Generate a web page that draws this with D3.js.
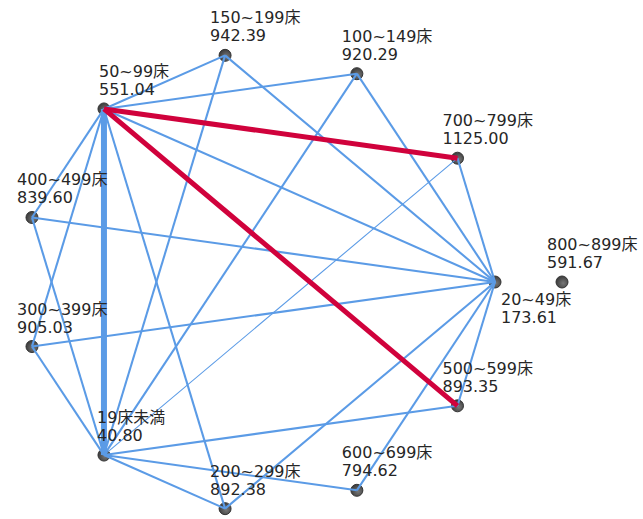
<!DOCTYPE html>
<html>
<head>
<meta charset="utf-8">
<script src="https://cdn.jsdelivr.net/npm/d3@7/dist/d3.min.js"></script>
<style>
  html, body { margin: 0; padding: 0; background: #ffffff; }
  svg { display: block; }
  text { font-family: "DejaVu Sans", "Noto Sans CJK JP", sans-serif; font-size: 16px; fill: #262626; }
</style>
</head>
<body>
<svg id="chart" width="643" height="519"></svg>
<script>
// ---- data ----
// nodes in their order round the circle (starting at the right, going counter-clockwise)
const ringCategories = ["20~49床", "700~799床", "100~149床", "150~199床", "50~99床", "400~499床",
                        "300~399床", "19床未満", "200~299床", "600~699床", "500~599床"];
const ringValues = [173.61, 1125.00, 920.29, 942.39, 551.04, 839.60,
                    905.03, 40.80, 892.38, 794.62, 893.35];
// node with no links, drawn outside the ring
const isolatedCategories = ["800~899床"];
const isolatedValues = [591.67];

// links: source, target, strength, kind
const linkSources = [
  "50~99床", "50~99床", "50~99床", "50~99床", "50~99床", "50~99床", "50~99床", "50~99床", "50~99床",
  "19床未満", "19床未満", "19床未満", "19床未満", "19床未満", "19床未満", "19床未満", "19床未満",
  "20~49床", "20~49床", "20~49床", "20~49床", "20~49床", "20~49床", "20~49床", "20~49床"
];
const linkTargets = [
  "150~199床", "100~149床", "700~799床", "20~49床", "500~599床", "19床未満", "400~499床", "300~399床", "200~299床",
  "150~199床", "100~149床", "700~799床", "500~599床", "600~699床", "200~299床", "300~399床", "400~499床",
  "150~199床", "100~149床", "700~799床", "400~499床", "300~399床", "200~299床", "600~699床", "500~599床"
];
const linkStrengths = [
  2, 2, 5, 2, 5, 6, 2, 2, 2,
  2, 2, 1, 2, 2, 2, 2, 2,
  2, 2, 2, 2, 2, 2, 2, 2
];
const linkKinds = [
  "n", "n", "r", "n", "r", "n", "n", "n", "n",
  "n", "n", "n", "n", "n", "n", "n", "n",
  "n", "n", "n", "n", "n", "n", "n", "n"
];

// ---- layout ----
const cx = 258.7, cy = 282, rx = 236.3, ry = 229;
const svg = d3.select("#chart");

const angle = d3.scaleLinear().domain([0, ringCategories.length]).range([0, 2 * Math.PI]);
const pos = new Map();
ringCategories.forEach((c, i) => {
  const a = angle(i);
  pos.set(c, { x: cx + rx * Math.cos(a), y: cy - ry * Math.sin(a), value: ringValues[i] });
});
isolatedCategories.forEach((c, i) => {
  pos.set(c, { x: cx + rx + 67, y: cy, value: isolatedValues[i] });
});

const widthScale = d3.scaleLinear().domain([1, 6]).range([1.1, 6]);
const colorOf = k => k === "r" ? "#d0023c" : "#5b9be6";

const links = linkSources.map((s, i) => ({
  s: pos.get(s), t: pos.get(linkTargets[i]), w: linkStrengths[i], k: linkKinds[i]
}));

const nodes = [...pos.entries()].map(([name, p]) => ({ name, ...p }));

const defs = svg.append("defs");
const grad = defs.append("radialGradient").attr("id", "ng").attr("cx", "60%").attr("cy", "60%").attr("r", "60%");
grad.append("stop").attr("offset", "0%").attr("stop-color", "#777");
grad.append("stop").attr("offset", "100%").attr("stop-color", "#3c3c3c");

// nodes (drawn under links)
svg.append("g").selectAll("circle").data(nodes).join("circle")
  .attr("cx", d => d.x).attr("cy", d => d.y).attr("r", 6)
  .attr("fill", "url(#ng)").attr("stroke", "#333").attr("stroke-width", 1);

svg.append("g").selectAll("line").data(links.filter(l => l.k !== "r")).join("line")
  .attr("x1", d => d.s.x).attr("y1", d => d.s.y)
  .attr("x2", d => d.t.x).attr("y2", d => d.t.y)
  .attr("stroke", d => colorOf(d.k))
  .attr("stroke-width", d => widthScale(d.w));
svg.append("g").selectAll("line").data(links.filter(l => l.k === "r")).join("line")
  .attr("x1", d => d.s.x).attr("y1", d => d.s.y)
  .attr("x2", d => d.t.x).attr("y2", d => d.t.y)
  .attr("stroke", d => colorOf(d.k))
  .attr("stroke-width", d => widthScale(d.w));

// labels
const labelPlace = {
  "20~49床": { dx: 6, dy1: 23, dy2: 41 },
  "50~99床": { dx: -5, dy1: -32, dy2: -14 },
  "19床未満": { dx: -7, dy1: -32, dy2: -14 }
};
const fmt = d3.format(".2f");
const lx = d => d.x + (labelPlace[d.name] ? labelPlace[d.name].dx : -15);
const lab = svg.append("g").selectAll("text").data(nodes).join("text")
  .attr("x", lx)
  .attr("y", d => d.y + (labelPlace[d.name] ? labelPlace[d.name].dy1 : -32));
lab.append("tspan").text(d => d.name);
lab.append("tspan")
  .attr("x", lx)
  .attr("dy", d => (labelPlace[d.name] ? labelPlace[d.name].dy2 - labelPlace[d.name].dy1 : 18))
  .text(d => fmt(d.value));
</script>
</body>
</html>
